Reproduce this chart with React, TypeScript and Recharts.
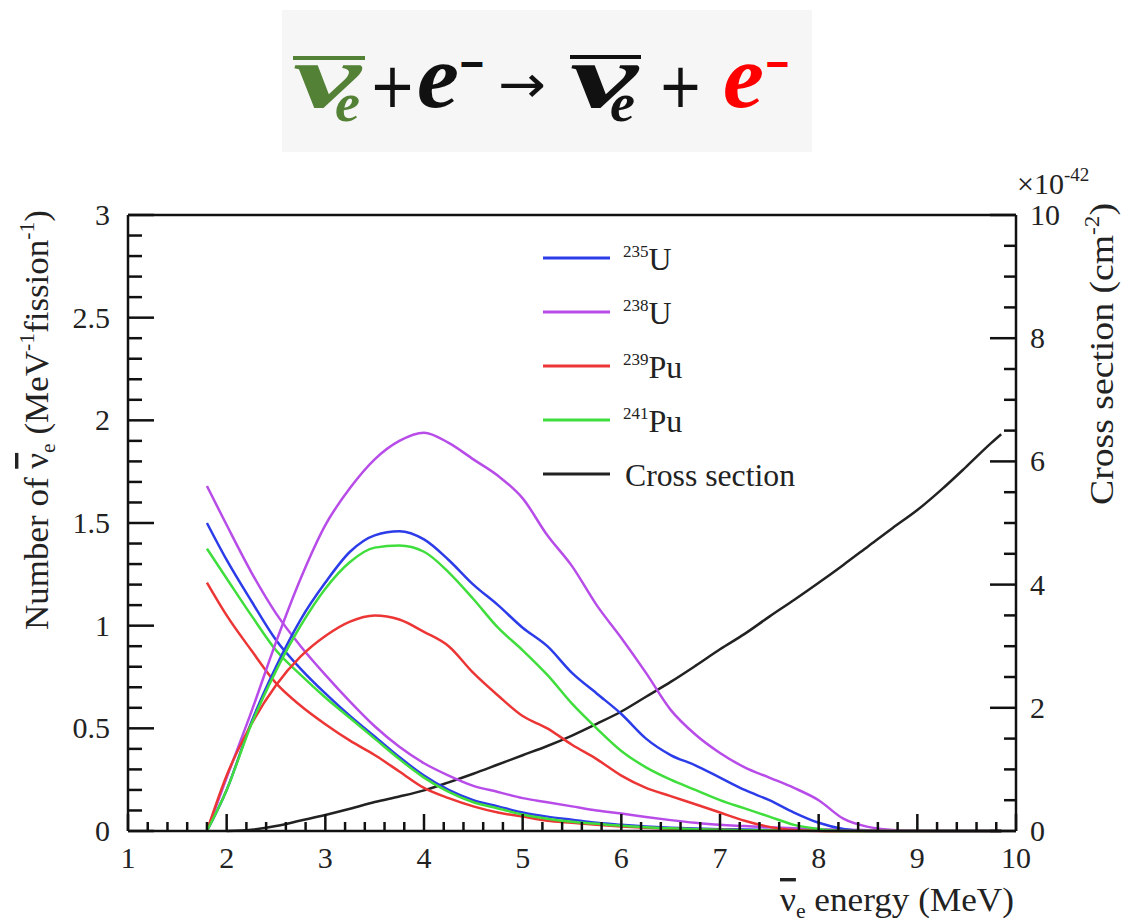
import React from 'react';
import { ComposedChart, Line, XAxis, YAxis, ReferenceLine } from 'recharts';

// neutrino energy grid (MeV)
const energy = [1.8, 2, 2.25, 2.5, 2.75, 3, 3.25, 3.5, 3.75, 4, 4.25, 4.5, 4.75, 5, 5.25, 5.5, 5.75, 6, 6.25, 6.5, 6.75, 7, 7.25, 7.5, 7.75, 8, 8.25, 8.5, 8.75, 9, 9.25, 9.5, 9.75, 9.85];

// emitted flux (MeV^-1 fission^-1)
const u235Flux = [1.5, 1.32, 1.12, 0.93, 0.79, 0.67, 0.56, 0.46, 0.36, 0.27, 0.2, 0.15, 0.12, 0.09, 0.07, 0.055, 0.04, 0.03, 0.022, 0.016, 0.012, 0.009, 0.007, 0.005, 0.003, 0.002, 0.001, 0, 0, 0, 0, 0, 0, 0];
const u238Flux = [1.68, 1.49, 1.26, 1.06, 0.9, 0.76, 0.63, 0.51, 0.41, 0.33, 0.27, 0.22, 0.19, 0.16, 0.14, 0.12, 0.1, 0.085, 0.068, 0.053, 0.04, 0.03, 0.024, 0.018, 0.013, 0.009, 0.006, 0.004, 0.002, 0.001, 0, 0, 0, 0];
const pu239Flux = [1.21, 1.05, 0.88, 0.72, 0.61, 0.52, 0.44, 0.37, 0.29, 0.21, 0.16, 0.12, 0.09, 0.07, 0.05, 0.04, 0.03, 0.022, 0.016, 0.011, 0.008, 0.006, 0.004, 0.003, 0.002, 0.001, 0, 0, 0, 0, 0, 0, 0, 0];
const pu241Flux = [1.375, 1.23, 1.05, 0.88, 0.76, 0.65, 0.55, 0.45, 0.35, 0.26, 0.19, 0.14, 0.11, 0.08, 0.06, 0.045, 0.035, 0.025, 0.018, 0.013, 0.009, 0.006, 0.004, 0.003, 0.002, 0.001, 0, 0, 0, 0, 0, 0, 0, 0];

// flux x cross section (same left axis)
const u235Rate = [0, 0.2, 0.53, 0.8, 1.03, 1.21, 1.36, 1.44, 1.46, 1.42, 1.32, 1.2, 1.1, 0.99, 0.9, 0.77, 0.67, 0.57, 0.45, 0.37, 0.32, 0.26, 0.2, 0.15, 0.09, 0.04, 0.01, 0, 0, 0, 0, 0, 0, 0];
const u238Rate = [0, 0.26, 0.58, 0.92, 1.23, 1.49, 1.67, 1.81, 1.9, 1.94, 1.89, 1.81, 1.73, 1.62, 1.44, 1.29, 1.1, 0.94, 0.77, 0.59, 0.47, 0.38, 0.31, 0.26, 0.21, 0.15, 0.06, 0.02, 0.005, 0, 0, 0, 0, 0];
const pu239Rate = [0, 0.27, 0.52, 0.71, 0.85, 0.95, 1.02, 1.05, 1.03, 0.97, 0.9, 0.77, 0.66, 0.56, 0.5, 0.42, 0.35, 0.27, 0.21, 0.17, 0.13, 0.09, 0.05, 0.02, 0.005, 0, 0, 0, 0, 0, 0, 0, 0, 0];
const pu241Rate = [0, 0.2, 0.52, 0.78, 1.0, 1.18, 1.31, 1.38, 1.39, 1.36, 1.26, 1.13, 0.99, 0.88, 0.76, 0.62, 0.5, 0.39, 0.31, 0.25, 0.2, 0.15, 0.11, 0.07, 0.03, 0.01, 0, 0, 0, 0, 0, 0, 0, 0];

// cross section (x1e-42 cm^2, right axis)
const crossSection = [null, 0, 0.02, 0.08, 0.17, 0.26, 0.36, 0.47, 0.56, 0.66, 0.79, 0.93, 1.08, 1.23, 1.38, 1.55, 1.74, 1.94, 2.18, 2.42, 2.68, 2.95, 3.2, 3.48, 3.75, 4.03, 4.32, 4.62, 4.92, 5.21, 5.55, 5.92, 6.3, 6.44];

const xMajor = [1, 2, 3, 4, 5, 6, 7, 8, 9, 10];
const leftMajor = [0, 0.5, 1, 1.5, 2, 2.5, 3];
const rightMajor = [0, 2, 4, 6, 8, 10];

const isotopes = ['235', '238', '239', '241'];
const elements = ['U', 'U', 'Pu', 'Pu'];
const colors = ['#2c3ce8', '#b84ce8', '#ec3636', '#40de3c'];
const csColor = '#222222';
const axisColor = '#111111';
const serif = '"Liberation Serif", serif';

const data = energy.map((e, i) => ({
  e,
  u235: u235Rate[i], u238: u238Rate[i], pu239: pu239Rate[i], pu241: pu241Rate[i],
  u235f: u235Flux[i], u238f: u238Flux[i], pu239f: pu239Flux[i], pu241f: pu241Flux[i],
  cs: crossSection[i],
}));

const withMinors = (lo: number, hi: number, step: number) => {
  const out: number[] = [];
  for (let i = 0; lo + i * step <= hi + 1e-9; i++) out.push(+(lo + i * step).toFixed(2));
  return out;
};
const isMajor = (v: number, majors: number[]) => majors.some((m) => Math.abs(m - v) < 1e-6);

const BottomTick = (props: any) => {
  const { x, y, payload } = props;
  const major = isMajor(payload.value, xMajor);
  return (
    <g>
      <line x1={x} y1={y} x2={x} y2={y - (major ? 17 : 9)} stroke={axisColor} strokeWidth={2.5} />
      {major && (
        <text x={x} y={y + 37} textAnchor="middle" fontSize={30} style={{ fontFamily: serif }} fill="#222">
          {payload.value}
        </text>
      )}
    </g>
  );
};

const LeftTick = (props: any) => {
  const { x, y, payload } = props;
  const major = isMajor(payload.value, leftMajor);
  return (
    <g>
      <line x1={x} y1={y} x2={x + (major ? 26 : 14)} y2={y} stroke={axisColor} strokeWidth={2.5} />
      {major && (
        <text x={x - 18} y={y + 10} textAnchor="end" fontSize={30} style={{ fontFamily: serif }} fill="#222">
          {payload.value}
        </text>
      )}
    </g>
  );
};

const RightTick = (props: any) => {
  const { x, y, payload } = props;
  const major = isMajor(payload.value, rightMajor);
  return (
    <g>
      <line x1={x} y1={y} x2={x - (major ? 26 : 12)} y2={y} stroke={axisColor} strokeWidth={2.5} />
      {major && (
        <text x={x + 14} y={y + 10} textAnchor="start" fontSize={30} style={{ fontFamily: serif }} fill="#222">
          {payload.value}
        </text>
      )}
    </g>
  );
};

const legendRows = [258, 312, 366, 420];

const Overlay = () => {
  const symFont = '"DejaVu Sans", sans-serif';
  return (
    <svg width={1137} height={923} style={{ position: 'absolute', left: 0, top: 0, pointerEvents: 'none' }}>
      {/* reaction equation */}
      <rect x={282} y={10} width={530} height={142} fill="#f6f6f6" />
      <g style={{ fontFamily: serif, fontWeight: 'bold', fontStyle: 'italic' }}>
        <line x1={293} y1={58} x2={365} y2={58} stroke="#538135" strokeWidth={4} />
        <text x={293} y={107} fontSize={92} textLength={68} lengthAdjust="spacingAndGlyphs" fill="#538135">ν</text>
        <text x={335} y={121} fontSize={54} textLength={25} lengthAdjust="spacingAndGlyphs" fill="#538135">e</text>
        <text x={417} y={107} fontSize={92} textLength={42} lengthAdjust="spacingAndGlyphs" fill="#111">e</text>
        <line x1={570} y1={57} x2={641} y2={57} stroke="#111" strokeWidth={4} />
        <text x={570} y={107} fontSize={92} textLength={68} lengthAdjust="spacingAndGlyphs" fill="#111">ν</text>
        <text x={610} y={121} fontSize={54} textLength={25} lengthAdjust="spacingAndGlyphs" fill="#111">e</text>
        <text x={723} y={107} fontSize={92} textLength={41} lengthAdjust="spacingAndGlyphs" fill="#ff0000">e</text>
      </g>
      <g style={{ fontFamily: symFont }}>
        <text x={369} y={107} fontSize={62} textLength={47} lengthAdjust="spacingAndGlyphs" fill="#111">+</text>
        <text x={458} y={78} fontSize={44} fontWeight="bold" textLength={28} lengthAdjust="spacingAndGlyphs" fill="#111">−</text>
        <text x={498} y={102} fontSize={52} textLength={48} lengthAdjust="spacingAndGlyphs" fill="#111">→</text>
        <text x={658} y={107} fontSize={62} textLength={45} lengthAdjust="spacingAndGlyphs" fill="#111">+</text>
        <text x={764} y={78} fontSize={44} fontWeight="bold" textLength={27} lengthAdjust="spacingAndGlyphs" fill="#ff0000">−</text>
      </g>

      {/* axis titles */}
      <text transform="translate(48,630) rotate(-90)" style={{ fontFamily: serif }} fontSize={34} fill="#222" textLength={420} lengthAdjust="spacingAndGlyphs">
        Number of <tspan style={{ textDecoration: 'overline' }}>ν</tspan>
        <tspan fontSize={21} dy={7}>e</tspan>
        <tspan dy={-7}> (MeV</tspan>
        <tspan fontSize={21} dy={-14}>-1</tspan>
        <tspan dy={14}>fission</tspan>
        <tspan fontSize={21} dy={-14}>-1</tspan>
        <tspan dy={14}>)</tspan>
      </text>
      <text transform="translate(1113,505) rotate(-90)" style={{ fontFamily: serif }} fontSize={34} fill="#222" textLength={302} lengthAdjust="spacingAndGlyphs">
        Cross section (cm<tspan fontSize={21} dy={-14}>-2</tspan>
        <tspan dy={14}>)</tspan>
      </text>
      <text x={780} y={911} style={{ fontFamily: serif }} fontSize={34} fill="#222" textLength={234} lengthAdjust="spacingAndGlyphs">
        <tspan style={{ textDecoration: 'overline' }}>ν</tspan>
        <tspan fontSize={21} dy={7}>e</tspan>
        <tspan dy={-7}> energy (MeV)</tspan>
      </text>
      <text x={1017} y={194} style={{ fontFamily: serif }} fontSize={30} fill="#222">
        ×10<tspan fontSize={19} dy={-13}>-42</tspan>
      </text>

      {/* legend */}
      {legendRows.map((ly, i) => (
        <g key={isotopes[i]}>
          <line x1={543} y1={ly} x2={610} y2={ly} stroke={colors[i]} strokeWidth={3} />
          <text x={623} y={ly + 12} style={{ fontFamily: serif }} fill="#222" fontSize={32}>
            <tspan fontSize={17} dy={-13}>{isotopes[i]}</tspan>
            <tspan dy={13}>{elements[i]}</tspan>
          </text>
        </g>
      ))}
      <line x1={543} y1={474} x2={610} y2={474} stroke={csColor} strokeWidth={3} />
      <text x={625} y={486} style={{ fontFamily: serif }} fill="#222" fontSize={32} textLength={170} lengthAdjust="spacingAndGlyphs">
        Cross section
      </text>
    </svg>
  );
};

const App = () => {
  const lineProps = { type: 'monotone' as const, dot: false, strokeWidth: 2.5, isAnimationActive: false };
  return (
    <div style={{ position: 'relative', width: 1137, height: 923, background: '#fff' }}>
      <style>{'body{margin:0}'}</style>
      <ComposedChart width={1137} height={923} data={data} margin={{ top: 215, right: 0, bottom: 0, left: 0 }}>
        <XAxis
          dataKey="e"
          type="number"
          domain={[1, 10]}
          ticks={withMinors(1, 10, 0.2)}
          interval={0}
          height={92}
          tickSize={0}
          tickMargin={0}
          tickLine={false}
          tick={<BottomTick />}
          axisLine={{ stroke: axisColor, strokeWidth: 2.5 }}
        />
        <YAxis
          yAxisId="left"
          type="number"
          domain={[0, 3]}
          ticks={withMinors(0, 3, 0.1)}
          interval={0}
          width={128}
          tickSize={0}
          tickMargin={0}
          tickLine={false}
          tick={<LeftTick />}
          axisLine={{ stroke: axisColor, strokeWidth: 2.5 }}
        />
        <YAxis
          yAxisId="right"
          orientation="right"
          type="number"
          domain={[0, 10]}
          ticks={withMinors(0, 10, 0.5)}
          interval={0}
          width={121}
          tickSize={0}
          tickMargin={0}
          tickLine={false}
          tick={<RightTick />}
          axisLine={{ stroke: axisColor, strokeWidth: 2.5 }}
        />
        <ReferenceLine yAxisId="left" y={3} stroke={axisColor} strokeWidth={2.5} />
        <Line yAxisId="right" dataKey="cs" stroke={csColor} {...lineProps} />
        <Line yAxisId="left" dataKey="u235f" stroke={colors[0]} {...lineProps} />
        <Line yAxisId="left" dataKey="u238f" stroke={colors[1]} {...lineProps} />
        <Line yAxisId="left" dataKey="pu239f" stroke={colors[2]} {...lineProps} />
        <Line yAxisId="left" dataKey="pu241f" stroke={colors[3]} {...lineProps} />
        <Line yAxisId="left" dataKey="u235" stroke={colors[0]} {...lineProps} />
        <Line yAxisId="left" dataKey="u238" stroke={colors[1]} {...lineProps} />
        <Line yAxisId="left" dataKey="pu239" stroke={colors[2]} {...lineProps} />
        <Line yAxisId="left" dataKey="pu241" stroke={colors[3]} {...lineProps} />
      </ComposedChart>
      <Overlay />
    </div>
  );
};

export default App;
